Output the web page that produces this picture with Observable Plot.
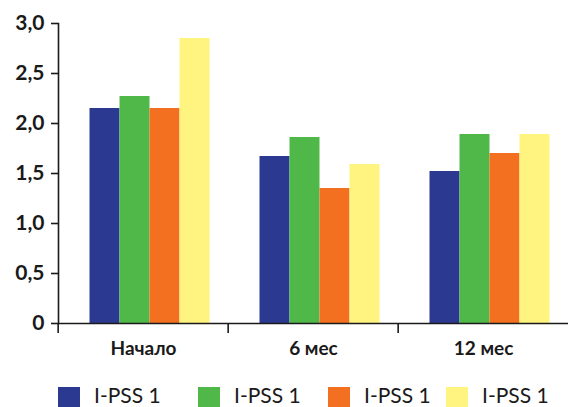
<!DOCTYPE html>
<html>
<head>
<meta charset="utf-8">
<script src="https://cdn.jsdelivr.net/npm/d3@7"></script>
<script src="https://cdn.jsdelivr.net/npm/@observablehq/plot@0.6"></script>
<style>
  html, body { margin: 0; padding: 0; background: #fff; }
  #chart { width: 569px; height: 407px; position: relative; overflow: hidden; font-family: Lato, "Open Sans", sans-serif; color: #1a1a1a; }
  #chart svg { display: block; }
  .legend { position: absolute; left: 0; top: 383px; width: 569px; height: 24px; }
  .legend .item { position: absolute; top: 0; display: flex; align-items: flex-start; font-size: 21px; line-height: 24px; white-space: nowrap; }
  .legend .item:nth-child(1) { left: 58px; }
  .legend .item:nth-child(2) { left: 198px; }
  .legend .item:nth-child(3) { left: 328px; }
  .legend .item:nth-child(4) { left: 446px; }
  .legend .swatch { width: 22px; height: 21px; margin-top: 4px; margin-right: 14px; flex: none; }
</style>
</head>
<body>
<div id="chart"></div>
<script>
// Groups along the x axis
const categories = ["Начало", "6 мес", "12 мес"];
// Series names shown in the legend
const seriesLabels = ["I-PSS 1", "I-PSS 1", "I-PSS 1", "I-PSS 1"];
// Values per series, one per group
const series1 = [2.15, 1.67, 1.52];
const series2 = [2.27, 1.86, 1.89];
const series3 = [2.15, 1.35, 1.70];
const series4 = [2.85, 1.59, 1.89];
// Y axis ticks
const yTicks = [0, 0.5, 1, 1.5, 2, 2.5, 3];

const palette = ["#2b3990", "#50b848", "#f37021", "#fff47f"];
const allSeries = [series1, series2, series3, series4];

const rows = [];
categories.forEach((cat, i) => {
  allSeries.forEach((s, j) => rows.push({category: cat, series: j, value: s[i]}));
});

const ink = "#1a1a1a";
const width = 569;
const marginLeft = 57;
const marginRight = 0;
const step = (width - marginLeft - marginRight) / categories.length;

const chart = Plot.plot({
  width,
  height: 365,
  marginTop: 23,
  marginBottom: 42,
  marginLeft,
  marginRight,
  style: {fontFamily: "Lato, 'Open Sans', sans-serif", color: ink},
  fx: {domain: categories, padding: 0, label: null},
  x: {domain: d3.range(allSeries.length), axis: null, paddingInner: 0, paddingOuter: 0.8},
  y: {domain: [0, 3], axis: null},
  marks: [
    Plot.barY(rows, {fx: "category", x: "series", y: "value", fill: d => palette[d.series], dx: 6.5}),
    Plot.ruleY([0], {stroke: ink, strokeWidth: 1.6}),
    Plot.frame({anchor: "left", facetAnchor: "left", stroke: ink, strokeWidth: 1.6}),
    Plot.axisY({
      ticks: yTicks,
      tickSize: 7,
      tickPadding: 7,
      tickFormat: d => d === 0 ? "0" : d.toFixed(1).replace(".", ","),
      fontSize: 21,
      fontWeight: "bold",
      strokeWidth: 1.6,
      label: null
    }),
    // boundary ticks between groups
    Plot.axisFx({anchor: "bottom", tickSize: 10, tickFormat: () => "", dx: -step / 2, strokeWidth: 1.6, label: null}),
    // group labels
    Plot.axisFx({anchor: "bottom", tickSize: 0, tickPadding: 18, fontSize: 19, fontWeight: "bold", label: null})
  ]
});

const root = document.getElementById("chart");
root.appendChild(chart);

const legend = document.createElement("div");
legend.className = "legend";
seriesLabels.forEach((label, j) => {
  const item = document.createElement("div");
  item.className = "item";
  const sw = document.createElement("span");
  sw.className = "swatch";
  sw.style.background = palette[j];
  const tx = document.createElement("span");
  tx.textContent = label;
  item.appendChild(sw);
  item.appendChild(tx);
  legend.appendChild(item);
});
root.appendChild(legend);
</script>
</body>
</html>
